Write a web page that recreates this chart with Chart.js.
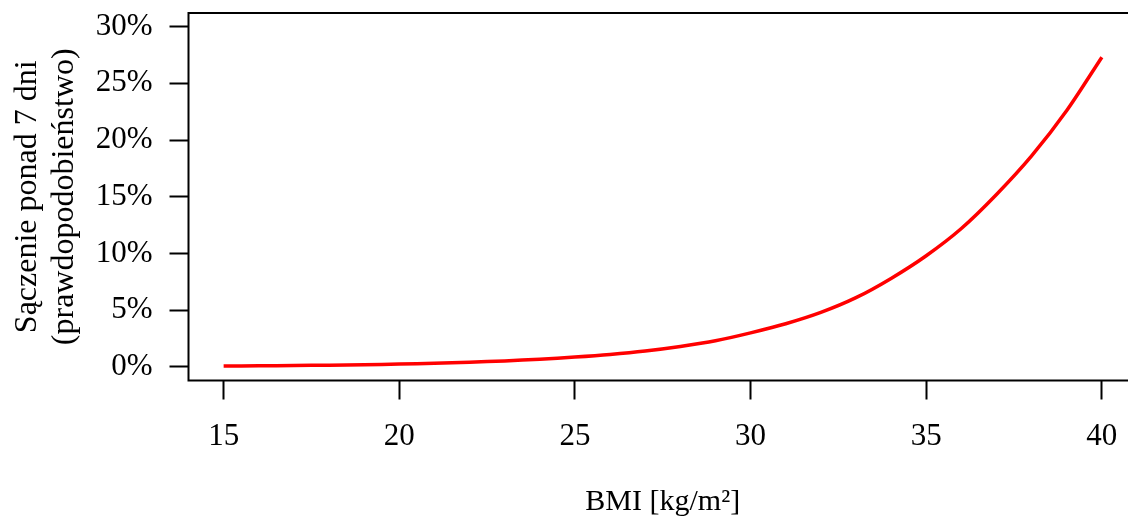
<!DOCTYPE html>
<html>
<head>
<meta charset="utf-8">
<script src="https://cdn.jsdelivr.net/npm/chart.js@4/dist/chart.umd.min.js"></script>
<style>
  html, body { margin: 0; padding: 0; background: #fff; overflow: hidden; }
  #wrap { width: 1140px; height: 531px; }
</style>
</head>
<body>
<div id="wrap"><canvas id="bmiChart" width="1140" height="531"></canvas></div>
<script>
const bmi = [15, 16, 17, 18, 19, 20, 21, 22, 23, 24, 25, 26, 27, 28, 29, 30,
  31, 32, 33, 34, 35, 36, 37, 38, 39, 40];
const risk = [0.07, 0.09, 0.12, 0.15, 0.19, 0.25, 0.32, 0.41, 0.53, 0.68, 0.87,
  1.1, 1.4, 1.8, 2.3, 3.0, 3.8, 4.8, 6.1, 7.8, 9.8, 12.2, 15.2, 18.6, 22.6, 27.3];
const xTicks = [15, 20, 25, 30, 35, 40];
const yTicks = [0, 5, 10, 15, 20, 25, 30];

const serif = "'Liberation Serif', 'Times New Roman', serif";

// ramka wokol obszaru wykresu (jak w R)
const boxPlugin = {
  id: "box",
  afterDraw(chart) {
    const a = chart.chartArea;
    const ctx = chart.ctx;
    ctx.save();
    ctx.strokeStyle = "#000";
    ctx.lineWidth = 2;
    ctx.strokeRect(a.left, a.top, a.right - a.left, a.bottom - a.top);
    ctx.restore();
  }
};

const ctx = document.getElementById("bmiChart").getContext("2d");

new Chart(ctx, {
  type: "line",
  data: {
    datasets: [{
      data: bmi.map((b, i) => ({ x: b, y: risk[i] })),
      borderColor: "#ff0000",
      borderWidth: 3.5,
      pointRadius: 0,
      tension: 0.3,
      fill: false
    }]
  },
  options: {
    responsive: false,
    animation: false,
    layout: { padding: { top: 13, right: 3, left: 0, bottom: 0 } },
    plugins: { legend: { display: false }, tooltip: { enabled: false } },
    scales: {
      x: {
        type: "linear",
        min: 14,
        max: 41,
        afterBuildTicks: (s) => { s.ticks = xTicks.map(v => ({ value: v })); },
        afterFit: (s) => { s.height = 150.5; s.paddingLeft = 0; s.paddingRight = 0; },
        grid: { drawOnChartArea: false, tickLength: 19, tickColor: "#000", tickWidth: 2 },
        border: { display: false },
        ticks: {
          color: "#000",
          padding: 19,
          maxRotation: 0,
          font: { family: serif, size: 31 }
        },
        title: {
          display: true,
          text: "BMI [kg/m²]",
          color: "#000",
          padding: { top: 0, bottom: 11 },
          font: { family: serif, size: 30 }
        }
      },
      y: {
        min: -1.2,
        max: 31.2,
        afterBuildTicks: (s) => { s.ticks = yTicks.map(v => ({ value: v })); },
        afterFit: (s) => { s.width = 188.5; s.paddingTop = 0; s.paddingBottom = 0; },
        grid: { drawOnChartArea: false, tickLength: 19, tickColor: "#000", tickWidth: 2 },
        border: { display: false },
        ticks: {
          color: "#000",
          padding: 17,
          font: { family: serif, size: 31 },
          callback: (v) => v + "%"
        },
        title: {
          display: true,
          text: ["Sączenie ponad 7 dni", "(prawdopodobieństwo)"],
          color: "#000",
          padding: { top: 10, bottom: 0 },
          font: { family: serif, size: 32, lineHeight: 1.13 }
        }
      }
    }
  },
  plugins: [boxPlugin]
});
</script>
</body>
</html>
